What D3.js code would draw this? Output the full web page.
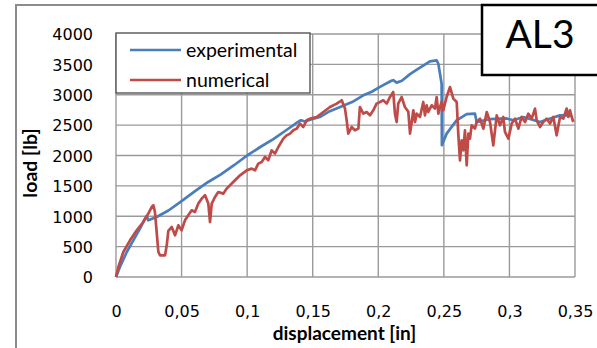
<!DOCTYPE html>
<html><head><meta charset="utf-8">
<script src="https://cdn.jsdelivr.net/npm/d3@7"></script>
<style>
html,body{margin:0;padding:0;background:#fff;}
svg{display:block;}
</style></head>
<body><svg id="c" width="597" height="348"></svg>
<script>
const xTicks = [0, 0.05, 0.1, 0.15, 0.2, 0.25, 0.3, 0.35];
const xTickLabels = ["0", "0,05", "0,1", "0,15", "0,2", "0,25", "0,3", "0,35"];
const yTicks = [0, 500, 1000, 1500, 2000, 2500, 3000, 3500, 4000];
const seriesNames = ["experimental", "numerical"];
const seriesColors = ["#4a7ebb", "#be4b48"];

const expX = [0,0.003,0.0082,0.0132,0.0183,0.0221,0.0234,0.0246,0.031,0.04,0.05,0.06,0.07,0.08,0.09,0.1,0.11,0.12,0.13,0.138,0.141,0.144,0.15,0.156,0.163,0.17,0.18,0.1886,0.195,0.2013,0.21,0.2114,0.214,0.218,0.2242,0.23,0.2343,0.2394,0.2445,0.2458,0.2483,0.2485,0.2521,0.2597,0.2674,0.2737,0.275,0.2852,0.2979,0.303,0.3106,0.3233,0.33,0.3385,0.3477];
const expY = [0,165,412,604,796,961,1004,933,988,1095,1250,1410,1560,1690,1840,2000,2140,2270,2420,2540,2580,2560,2600,2640,2730,2790,2880,2990,3050,3130,3230,3240,3200,3230,3340,3420,3480,3550,3567,3510,3180,2170,2360,2579,2680,2690,2550,2600,2610,2580,2634,2551,2600,2661,2661];

const numX = [0,0.0018,0.0056,0.0107,0.0158,0.0208,0.0246,0.0272,0.0285,0.0297,0.031,0.0323,0.0336,0.0374,0.0387,0.0399,0.0425,0.045,0.0475,0.05,0.0526,0.0551,0.0577,0.0602,0.0628,0.0653,0.0679,0.0704,0.0717,0.073,0.0755,0.078,0.0818,0.0844,0.0894,0.0946,0.0997,0.1035,0.106,0.1085,0.1111,0.1136,0.1161,0.1187,0.1212,0.1238,0.1276,0.1302,0.1327,0.1352,0.1378,0.1403,0.1428,0.1454,0.148,0.153,0.1581,0.1632,0.1683,0.1721,0.1746,0.1759,0.1771,0.1797,0.1822,0.1848,0.186,0.1886,0.1911,0.1937,0.1962,0.1987,0.2013,0.2038,0.2064,0.2089,0.2114,0.2127,0.214,0.2152,0.2178,0.2203,0.2229,0.2242,0.2255,0.2267,0.228,0.2293,0.2318,0.2343,0.2356,0.2369,0.2381,0.2407,0.2432,0.2445,0.2458,0.2471,0.2483,0.2496,0.2521,0.2547,0.2572,0.2598,0.261,0.2623,0.2636,0.2648,0.2661,0.2674,0.2687,0.2699,0.2712,0.2737,0.275,0.2776,0.2801,0.2827,0.2852,0.2877,0.289,0.2903,0.2928,0.2953,0.2966,0.2992,0.3017,0.3043,0.3068,0.3093,0.3119,0.3144,0.317,0.3195,0.3208,0.3233,0.3258,0.3284,0.3309,0.3335,0.336,0.3386,0.3411,0.3436,0.3449,0.3462,0.3475,0.3487];
const numY = [0,165,412,604,769,905,1043,1152,1180,1070,741,412,357,357,522,760,823,686,851,768,933,1016,1098,1070,1208,1290,1345,1208,905,1208,1317,1399,1372,1455,1564,1674,1756,1784,1756,1866,1893,1975,1921,2085,2031,2140,2278,2332,2360,2415,2442,2525,2469,2579,2607,2634,2716,2798,2854,2909,2772,2579,2360,2469,2415,2442,2798,2689,2716,2661,2744,2854,2881,2909,2854,2963,3045,2689,2551,2854,2963,2798,2720,2360,2551,2744,2551,2689,2634,2881,2661,2826,2716,2826,2772,2963,2689,2798,2881,2744,2963,3127,2936,2881,2360,1921,2250,2085,2415,1839,2360,2278,2497,2442,2551,2607,2442,2716,2551,2168,2415,2661,2497,2634,2387,2278,2525,2607,2442,2634,2551,2689,2607,2772,2579,2469,2551,2607,2525,2634,2332,2634,2607,2772,2634,2744,2634,2551];

const svg = d3.select("#c");
const L = 116, R = 575, T = 34, B = 277;
const x = d3.scaleLinear().domain([0, 0.35]).range([L, R]);
const y = d3.scaleLinear().domain([0, 4000]).range([B, T]);

// outer chart frame
svg.append("rect").attr("x", 16).attr("y", 5).attr("width", 640).attr("height", 400)
  .attr("fill", "none").attr("stroke", "#8c8c8c").attr("stroke-width", 2);

// grid
const g = svg.append("g");
g.selectAll("line.h").data(yTicks).join("line")
  .attr("x1", L).attr("x2", R).attr("y1", d => y(d)).attr("y2", d => y(d))
  .attr("stroke", "#9a9a9a").attr("stroke-width", 1.4);
g.selectAll("line.v").data(xTicks).join("line")
  .attr("y1", T).attr("y2", B).attr("x1", d => x(d)).attr("x2", d => x(d))
  .attr("stroke", "#9a9a9a").attr("stroke-width", 1.4);

// axes labels via d3 axes
const tickFont = "DejaVu Sans";
const yAxis = d3.axisLeft(y).tickValues(yTicks).tickSize(0).tickPadding(0).tickFormat(d3.format("d"));
const ya = svg.append("g").attr("transform", `translate(${93},0)`).call(yAxis);
ya.select(".domain").remove();
ya.selectAll("text").attr("font-size", 16).attr("font-family", tickFont).attr("dy", "0.36em").attr("fill", "#000");

const xAxis = d3.axisBottom(x).tickValues(xTicks).tickSize(0).tickPadding(0).tickFormat((d, i) => xTickLabels[i]);
const xa = svg.append("g").attr("transform", `translate(0,${304})`).call(xAxis);
xa.select(".domain").remove();
xa.selectAll("text").attr("font-size", 16).attr("font-family", tickFont).attr("dy", "0.8em").attr("fill", "#000");

// series
const line = d3.line().x(d => x(d[0])).y(d => y(d[1]));
const expData = expX.map((v, i) => [v, expY[i]]);
const numData = numX.map((v, i) => [v, numY[i]]);
svg.append("path").datum(expData).attr("d", line).attr("fill", "none")
  .attr("stroke", seriesColors[0]).attr("stroke-width", 2.7).attr("stroke-linejoin", "round");
svg.append("path").datum(numData).attr("d", line).attr("fill", "none")
  .attr("stroke", seriesColors[1]).attr("stroke-width", 2.7).attr("stroke-linejoin", "round");

// axis titles
svg.append("text").attr("x", (L + R) / 2 - 1).attr("y", 340).attr("text-anchor", "middle")
  .attr("font-family", "Lato").attr("font-size", 19).attr("font-weight", "bold").text("displacement [in]");
svg.append("text").attr("transform", "translate(37,163) rotate(-90)").attr("text-anchor", "middle")
  .attr("font-family", "Lato").attr("font-size", 19.5).attr("font-weight", "bold").text("load [lb]");

// legend
const lg = svg.append("g");
lg.append("rect").attr("x", 116).attr("y", 33).attr("width", 194).attr("height", 60)
  .attr("fill", "#fff").attr("stroke", "#555").attr("stroke-width", 1.4);
seriesNames.forEach((n, i) => {
  const yy = 50 + i * 30;
  lg.append("line").attr("x1", 130).attr("x2", 181).attr("y1", yy).attr("y2", yy)
    .attr("stroke", seriesColors[i]).attr("stroke-width", 2.7);
  lg.append("text").attr("x", 186).attr("y", yy).attr("dy", "0.35em")
    .attr("font-family", "Lato").attr("font-size", 19.5).text(n);
});

// AL3 box
svg.append("rect").attr("x", 482).attr("y", 5).attr("width", 130).attr("height", 70)
  .attr("fill", "#fff").attr("stroke", "#000").attr("stroke-width", 2.5);
svg.append("text").attr("x", 540).attr("y", 48).attr("text-anchor", "middle")
  .attr("font-family", "Lato").attr("font-size", 39).text("AL3");
</script></body></html>
